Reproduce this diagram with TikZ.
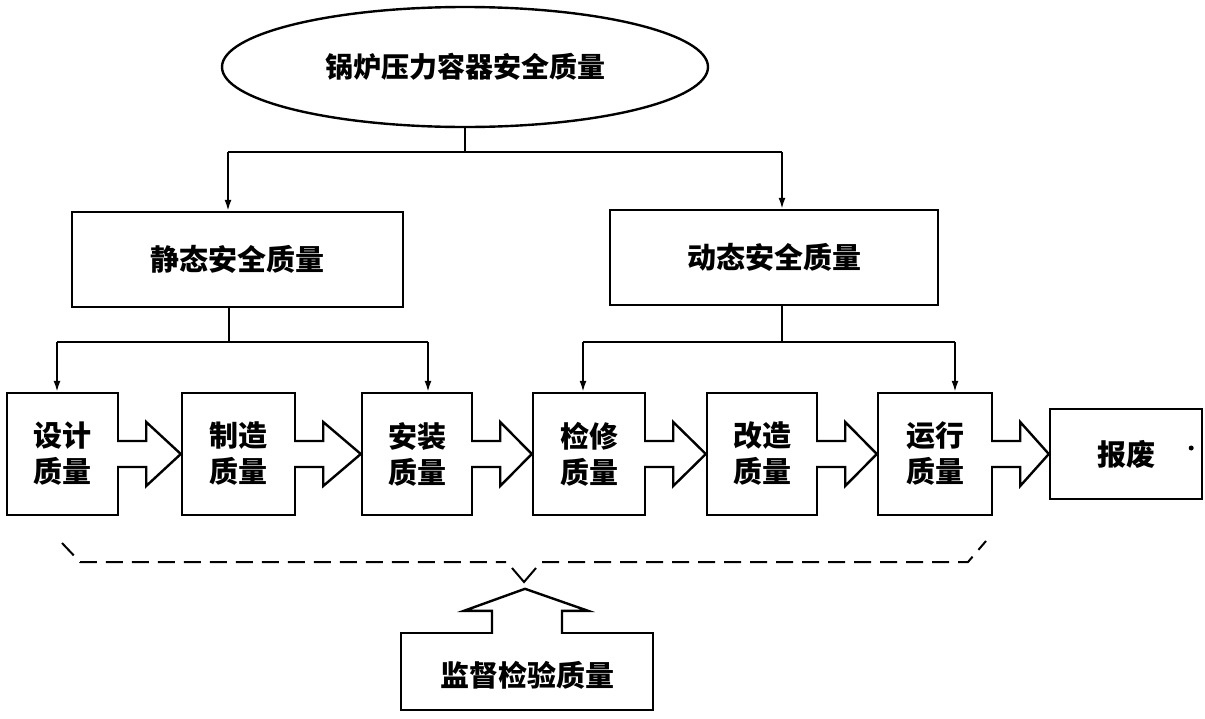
\documentclass[tikz,border=0pt]{standalone}
\usepackage{fontspec}
\setmainfont{Noto Sans CJK SC}
\usetikzlibrary{shapes.geometric,arrows.meta,calc}
\newcommand\blkarr[2]{%
  \draw[blk] ($(#1.east)+(-2,-13)$) -- ++(29,0) -- ++(0,-19) -- (#2.west)
    -- ($(#1.east)+(27,32)$) -- ++(0,-19) -- ++(-29,0);}
\begin{document}
\begin{tikzpicture}[x=1pt,y=-1pt,
  box/.style={draw, line width=2.4pt, inner sep=0pt, font=\fontsize{29}{36}\selectfont\bfseries, align=center},
  conn/.style={line width=1.8pt},
  arr/.style={conn, -{Latex[length=11pt,width=7pt]}},
  blk/.style={line width=2.4pt, fill=white, line join=miter},
  brace/.style={line width=2pt, dash pattern=on 17pt off 9pt}]
\useasboundingbox (0,0) rectangle (1205,718);
% top ellipse
\node[box, ellipse, minimum width=486pt, minimum height=120pt, font=\fontsize{28}{34}\selectfont\bfseries] (top) at (465,67) {锅炉压力容器安全质量};
% second level
\node[box, minimum width=331pt, minimum height=95pt] (st) at (237.5,259.5) {静态安全质量};
\node[box, minimum width=328pt, minimum height=95pt] (dy) at (774,257.5) {动态安全质量};
% third level
\node[box, minimum width=111pt, minimum height=122pt] (sj) at (62.5,454) {设计\\质量};
\node[box, minimum width=113pt, minimum height=122pt] (zz) at (238.5,454) {制造\\质量};
\node[box, minimum width=110pt, minimum height=122pt] (az) at (417,454) {安装\\质量};
\node[box, minimum width=112pt, minimum height=122pt] (jx) at (589,454) {检修\\质量};
\node[box, minimum width=110pt, minimum height=122pt] (gz) at (762,454) {改造\\质量};
\node[box, minimum width=114pt, minimum height=122pt] (yx) at (935,454) {运行\\质量};
\node[box, minimum width=152pt, minimum height=90pt] (bf) at (1126,454) {报废};
\fill ($(bf.east)+(-12,-6)$) circle (2.5);
% supervision box
\node[box, minimum width=252pt, minimum height=77pt, text depth=0pt] (jd) at (527,671.5) {\raisebox{-5pt}{监督检验质量}};
% connectors top
\coordinate (hM) at (465,152);
\coordinate (hL) at (228,152);
\coordinate (hR) at (782,152);
\draw[conn] (top.south) -- (hM);
\draw[conn] (hL) -- (hR);
\draw[arr] (hL) -- (hL |- st.north);
\draw[arr] (hR) -- (hR |- dy.north);
% connectors static
\coordinate (sM) at (229,342);
\coordinate (sL) at (57,342);
\coordinate (sR) at (428,342);
\draw[conn] (sM |- st.south) -- (sM);
\draw[conn] (sL) -- (sR);
\draw[arr] (sL) -- (sL |- sj.north);
\draw[arr] (sR) -- (sR |- az.north);
% connectors dynamic
\coordinate (dM) at (782,342);
\coordinate (dL) at (583,342);
\coordinate (dR) at (955,342);
\draw[conn] (dM |- dy.south) -- (dM);
\draw[conn] (dL) -- (dR);
\draw[arr] (dL) -- (dL |- jx.north);
\draw[arr] (dR) -- (dR |- yx.north);
% block arrows
\blkarr{sj}{zz}
\blkarr{zz}{az}
\blkarr{az}{jx}
\blkarr{jx}{gz}
\blkarr{gz}{yx}
\blkarr{yx}{bf}
% up arrow
\draw[blk] ($(jd.north)+(-35,2)$) -- ($(jd.north)+(-35,-21)$) -- ($(jd.north)+(-63,-21)$)
  -- ($(jd.north)+(-2,-43)$) -- ($(jd.north)+(61,-21)$) -- ($(jd.north)+(35,-21)$) -- ($(jd.north)+(35,2)$);
% dashed brace
\coordinate (b1) at (62,543);
\coordinate (b2) at (80,562);
\coordinate (b3) at (506,562);
\coordinate (b3a) at (512,568);
\coordinate (b4) at (524,582);
\coordinate (b5a) at (536,568);
\coordinate (b5) at (542,562);
\coordinate (b6) at (968,562);
\coordinate (b7) at (986,541);
\draw[brace] (b1) -- (b2) -- (b3);
\draw[line width=2pt] (b3a) -- (b4) -- (b5a);
\draw[brace] (b5) -- (b6) -- (b7);
\end{tikzpicture}
\end{document}
